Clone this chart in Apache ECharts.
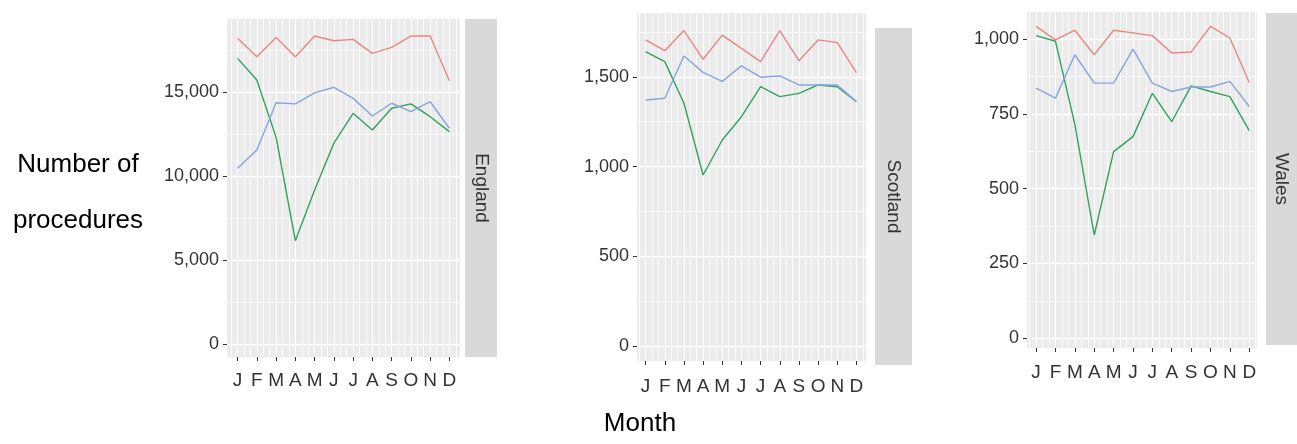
<!DOCTYPE html>
<html>
<head>
<meta charset="utf-8">
<script src="https://cdn.jsdelivr.net/npm/echarts@6/dist/echarts.min.js"></script>
<style>
html,body{margin:0;padding:0;background:#fff;}
#c{width:1297px;height:444px;}
</style>
</head>
<body>
<div id="c"></div>
<script>
// ---------- data ----------
const months = [0,1,2,3,4,5,6,7,8,9,10,11];
const monthLabels = ['J','F','M','A','M','J','J','A','S','O','N','D'];
const regions = ['England','Scotland','Wales'];
const seriesNames = ['Series 1','Series 2','Series 3'];

const englandRed   = [18200,17100,18250,17100,18330,18050,18130,17300,17660,18330,18330,15670];
const englandGreen = [17000,15710,12300,6150,9170,11950,13730,12740,14030,14290,13530,12640];
const englandBlue  = [10460,11550,14360,14290,14950,15280,14620,13570,14330,13830,14420,12840];

const scotlandRed   = [1706,1646,1758,1598,1733,1659,1585,1758,1590,1706,1691,1524];
const scotlandGreen = [1641,1585,1353,953,1148,1278,1445,1390,1408,1455,1445,1362];
const scotlandBlue  = [1371,1381,1616,1525,1475,1561,1498,1505,1455,1455,1455,1362];

const walesRed   = [1043,998,1030,948,1030,1021,1012,954,957,1043,1004,855];
const walesGreen = [1012,993,715,345,624,674,819,724,844,825,808,694];
const walesBlue  = [836,803,948,853,853,967,853,825,840,840,859,775];

const englandTicks  = [0,5000,10000,15000];
const englandMinor  = [2500,7500,12500,17500];
const scotlandTicks = [0,500,1000,1500];
const scotlandMinor = [250,750,1250,1750];
const walesTicks    = [0,250,500,750,1000];
const walesMinor    = [125,375,625,875];

// ---------- layout / style ----------
const colors = ['#E8877F','#2FA35A','#86A5DC'];
const FONT = '"Liberation Sans", Arial, sans-serif';

const panels = [
  {name: regions[0], data:[englandRed,englandGreen,englandBlue], ticks:englandTicks, minor:englandMinor,
   left:227, top:19, width:233, height:338, xMin:-0.55, xMax:11.55, yMin:-774, yMax:19345,
   strip:{x:465, y:19, w:32, h:338}, xMargin:14},
  {name: regions[1], data:[scotlandRed,scotlandGreen,scotlandBlue], ticks:scotlandTicks, minor:scotlandMinor,
   left:637, top:13, width:229, height:348, xMin:-0.45, xMax:11.5, yMin:-84, yMax:1856,
   strip:{x:875, y:28, w:37, h:337}, xMargin:16},
  {name: regions[2], data:[walesRed,walesGreen,walesBlue], ticks:walesTicks, minor:walesMinor,
   left:1027, top:12, width:230, height:336, xMin:-0.47, xMax:11.4, yMin:-33, yMax:1091,
   strip:{x:1266, y:13, w:31, h:332}, xMargin:15}
];

const grid = [], xAxis = [], yAxis = [], series = [], graphic = [];
const fmt = v => Number(v).toLocaleString('en-US');

panels.forEach((p, i) => {
  grid.push({left:p.left, top:p.top, width:p.width, height:p.height,
             show:true, backgroundColor:'#EBEBEB', borderWidth:0, containLabel:false});
  const thirds = [];
  for (let k = Math.ceil(p.xMin*3); k <= Math.floor(p.xMax*3); k++) {
    if (k % 3 !== 0) thirds.push(k/3);
  }
  xAxis.push({type:'value', gridIndex:i, min:p.xMin, max:p.xMax, position:'bottom',
    axisLine:{show:false, onZero:false},
    axisTick:{show:true, customValues:months, length:4, inside:false, lineStyle:{color:'#333', width:1}},
    axisLabel:{show:true, customValues:months, margin:p.xMargin, color:'#333',
               fontSize:19, fontFamily:FONT, formatter:v => monthLabels[Math.round(v)]},
    splitLine:{show:true, lineStyle:{color:'#FFFFFF', width:1.1}}
  });
  xAxis.push({type:'value', gridIndex:i, min:p.xMin, max:p.xMax, position:'top',
    axisLine:{show:false, onZero:false},
    axisTick:{show:false, customValues:thirds},
    axisLabel:{show:false},
    splitLine:{show:true, lineStyle:{color:'#FFFFFF', width:0.8}}
  });
  yAxis.push({type:'value', gridIndex:i, min:p.yMin, max:p.yMax, position:'left',
    axisLine:{show:false, onZero:false},
    axisTick:{show:true, customValues:p.ticks, length:4, inside:false, lineStyle:{color:'#333', width:1}},
    axisLabel:{show:true, customValues:p.ticks, margin:8, color:'#333',
               fontSize:18, fontFamily:FONT, formatter:fmt},
    splitLine:{show:true, lineStyle:{color:'#FFFFFF', width:1.3}}
  });
  yAxis.push({type:'value', gridIndex:i, min:p.yMin, max:p.yMax, position:'right',
    axisLine:{show:false, onZero:false},
    axisTick:{show:false, customValues:p.minor},
    axisLabel:{show:false},
    splitLine:{show:true, lineStyle:{color:'#FFFFFF', width:0.8}}
  });
  p.data.forEach((arr, s) => {
    series.push({
      type:'line', name:seriesNames[s], xAxisIndex:2*i, yAxisIndex:2*i,
      data: months.map((m, j) => [m, arr[j]]),
      showSymbol:false, symbol:'none', smooth:false, animation:false,
      lineStyle:{color:colors[s], width:1.4}, itemStyle:{color:colors[s]}, z:3
    });
  });
  graphic.push({type:'rect', shape:{x:p.strip.x, y:p.strip.y, width:p.strip.w, height:p.strip.h},
                style:{fill:'#D9D9D9'}, z:10, silent:true});
  graphic.push({type:'text', x:p.strip.x + p.strip.w/2, y:p.strip.y + p.strip.h/2, rotation:-Math.PI/2,
                style:{text:p.name, fill:'#333', fontSize:19, fontFamily:FONT, align:'center', verticalAlign:'middle'},
                z:11, silent:true});
});

graphic.push({type:'text', x:78, y:165, style:{text:'Number of', fill:'#000', fontSize:26, fontFamily:FONT, align:'center', verticalAlign:'middle'}, z:11});
graphic.push({type:'text', x:78, y:221, style:{text:'procedures', fill:'#000', fontSize:26, fontFamily:FONT, align:'center', verticalAlign:'middle'}, z:11});
graphic.push({type:'text', x:640, y:424, style:{text:'Month', fill:'#000', fontSize:26, fontFamily:FONT, align:'center', verticalAlign:'middle'}, z:11});

const chart = echarts.init(document.getElementById('c'), null, {renderer:'canvas', width:1297, height:444});
chart.setOption({
  animation:false,
  backgroundColor:'#FFFFFF',
  grid, xAxis, yAxis, series, graphic,
  tooltip:{show:false}
});
</script>
</body>
</html>
